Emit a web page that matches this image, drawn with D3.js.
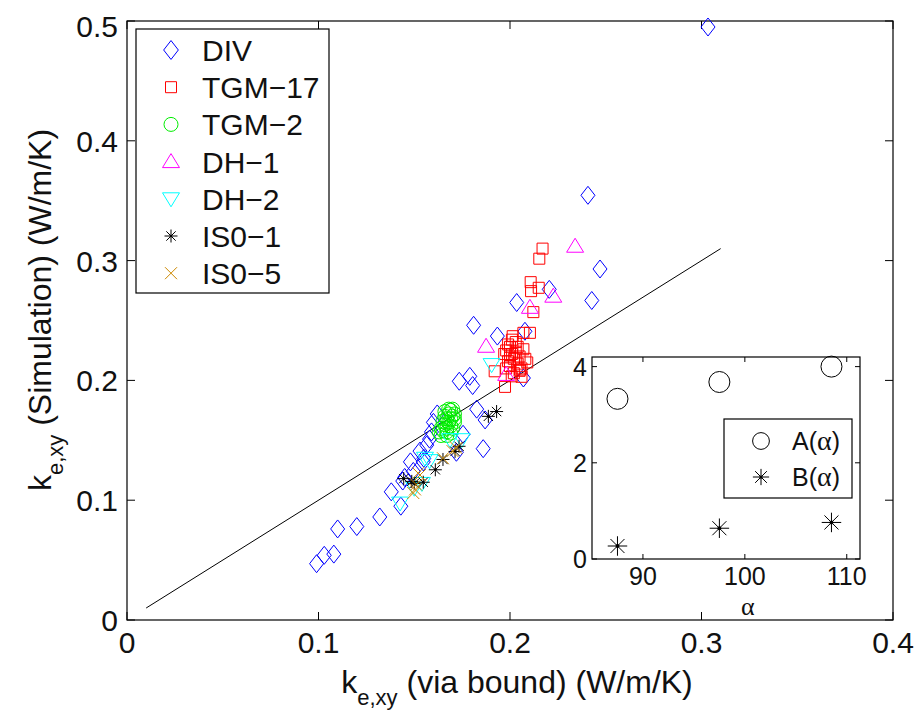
<!DOCTYPE html>
<html><head><meta charset="utf-8">
<script src="https://cdn.jsdelivr.net/npm/d3@7/dist/d3.min.js"></script>
<style>body{margin:0;background:#fff}svg{display:block;font-family:"Liberation Sans",Arial,Helvetica,sans-serif}</style>
</head><body>
<script>
// ---- data ----
const xTicks = [0, 0.1, 0.2, 0.3, 0.4];
const yTicks = [0, 0.1, 0.2, 0.3, 0.4, 0.5];
const DIV = [[0.099,0.047],[0.103,0.054],[0.108,0.055],[0.110,0.076],[0.120,0.078],[0.132,0.086],[0.138,0.107],[0.143,0.095],[0.144,0.116],[0.145,0.119],[0.148,0.132],[0.1495,0.124],[0.153,0.141],[0.1547,0.132],[0.155,0.135],[0.1565,0.146],[0.158,0.151],[0.159,0.157],[0.160,0.165],[0.162,0.172],[0.172,0.140],[0.1755,0.155],[0.1826,0.176],[0.187,0.167],[0.186,0.143],[0.1805,0.1957],[0.1735,0.1993],[0.179,0.2034],[0.181,0.246],[0.1934,0.237],[0.2035,0.265],[0.207,0.202],[0.2078,0.241],[0.2205,0.276],[0.2427,0.2667],[0.247,0.293],[0.2407,0.3545],[0.3034,0.495]];
const TGM17 = [[0.217,0.310],[0.2153,0.3016],[0.2108,0.282],[0.215,0.2773],[0.211,0.2745],[0.2122,0.257],[0.2104,0.2397],[0.207,0.2397],[0.2014,0.2369],[0.1974,0.1946],[0.192,0.2076],[0.2009,0.2034],[0.2052,0.209],[0.198,0.225],[0.199,0.230],[0.200,0.228],[0.201,0.222],[0.202,0.218],[0.203,0.224],[0.199,0.216],[0.200,0.212],[0.204,0.214],[0.205,0.220],[0.206,0.210],[0.202,0.206],[0.207,0.226],[0.208,0.218],[0.203,0.232],[0.201,0.234],[0.205,0.208],[0.198,0.210],[0.206,0.203],[0.200,0.220],[0.204,0.228],[0.209,0.215],[0.197,0.222]];
const TGM2 = [[0.164,0.154],[0.165,0.158],[0.166,0.163],[0.167,0.168],[0.168,0.172],[0.169,0.175],[0.170,0.170],[0.171,0.165],[0.170,0.160],[0.169,0.156],[0.167,0.154],[0.166,0.170],[0.165,0.166],[0.167,0.160],[0.168,0.165],[0.169,0.162],[0.171,0.172],[0.170,0.176],[0.168,0.176],[0.166,0.174],[0.164,0.160],[0.171,0.168],[0.167,0.157],[0.163,0.157],[0.169,0.168]];
const DH1 = [[0.234,0.312],[0.2226,0.2703],[0.2104,0.261],[0.1875,0.2285],[0.198,0.205]];
const DH2 = [[0.1426,0.0976],[0.150,0.110],[0.154,0.114],[0.1556,0.135],[0.158,0.133],[0.1687,0.1505],[0.1748,0.1505],[0.1904,0.2132]];
const IS01 = [[0.1445,0.118],[0.1487,0.1157],[0.150,0.114],[0.1547,0.115],[0.161,0.1254],[0.165,0.134],[0.1713,0.1407],[0.1734,0.145],[0.1887,0.170],[0.193,0.174]];
const IS05 = [[0.1495,0.106],[0.1504,0.109],[0.151,0.113],[0.152,0.1226],[0.153,0.121],[0.165,0.135],[0.170,0.141],[0.172,0.1436]];
const refLine = [[0.01,0.01],[0.31,0.31]];
const seriesNames = ["DIV","TGM\u221217","TGM\u22122","DH\u22121","DH\u22122","IS0\u22121","IS0\u22125"];
// inset
const alpha = [87.5, 97.5, 108.5];
const Avals = [3.33, 3.68, 4.0];
const Bvals = [0.27, 0.64, 0.76];
const insetXTicks = [90, 100, 110];
const insetYTicks = [0, 2, 4];
const insetNames = ["A", "B"];

// ---- markers ----
function marker(g, type, color, s) {
  s = s || 1;
  const p = g.append("path").attr("fill","none").attr("stroke",color).attr("stroke-width",1);
  if (type==="diamond") p.attr("d",`M0,${-9*s}L${7*s},0L0,${9*s}L${-7*s},0Z`);
  else if (type==="square") p.attr("d",`M${-5.5*s},${-5.5*s}h${11*s}v${11*s}h${-11*s}Z`);
  else if (type==="circle") p.attr("d",`M${7*s},0A${7*s},${7*s} 0 1 1 ${-7*s},0A${7*s},${7*s} 0 1 1 ${7*s},0Z`);
  else if (type==="up") p.attr("d",`M0,${-8*s}L${8.5*s},${6*s}L${-8.5*s},${6*s}Z`);
  else if (type==="down") p.attr("d",`M0,${8*s}L${8.5*s},${-6*s}L${-8.5*s},${-6*s}Z`);
  else if (type==="star") { const r=6.5*s, d=r*0.72;
    p.attr("d",`M${-r},0H${r}M0,${-r}V${r}M${-d},${-d}L${d},${d}M${-d},${d}L${d},${-d}`);
    g.append("circle").attr("r",1.3*s).attr("fill",color); }
  else if (type==="x") { const r=6*s; p.attr("d",`M${-r},${-r}L${r},${r}M${-r},${r}L${r},${-r}`); }
}

const W=922,H=718;
const svg = d3.select("body").append("svg").attr("width",W).attr("height",H);
const L=127,R=893,T=21,B=620;
const x = d3.scaleLinear().domain([0,0.4]).range([L,R]);
const y = d3.scaleLinear().domain([0,0.5]).range([B,T]);
const TXT="#111";

// frame
svg.append("rect").attr("x",L).attr("y",T).attr("width",R-L).attr("height",B-T).attr("fill","#fff").attr("stroke","#000").attr("stroke-width",1.2);

// ticks (inside, all sides)
const tl=8;
const ax = svg.append("g").attr("stroke","#000").attr("stroke-width",1);
xTicks.forEach(t=>{ ax.append("line").attr("x1",x(t)).attr("x2",x(t)).attr("y1",B).attr("y2",B-tl);
  ax.append("line").attr("x1",x(t)).attr("x2",x(t)).attr("y1",T).attr("y2",T+tl); });
yTicks.forEach(t=>{ ax.append("line").attr("x1",L).attr("x2",L+tl).attr("y1",y(t)).attr("y2",y(t));
  ax.append("line").attr("x1",R).attr("x2",R-tl).attr("y1",y(t)).attr("y2",y(t)); });
const fs=30;
svg.append("g").selectAll("text").data(xTicks).join("text")
  .attr("x",d=>x(d)).attr("y",B+33).attr("text-anchor","middle").attr("font-size",fs).attr("fill",TXT)
  .text(d=>d===0?"0":d3.format(".1f")(d));
svg.append("g").selectAll("text").data(yTicks).join("text")
  .attr("x",L-9).attr("y",d=>y(d)+11+(d===0.5?5:0)).attr("text-anchor","end").attr("font-size",fs).attr("fill",TXT)
  .text(d=>d===0?"0":d3.format(".1f")(d));

// axis labels
const lfs=32, sfs=22;
const xl = svg.append("text").attr("x",517).attr("y",693).attr("text-anchor","middle").attr("font-size",lfs).attr("fill",TXT);
xl.append("tspan").text("k");
xl.append("tspan").attr("font-size",sfs).attr("dy",12).text("e,xy");
xl.append("tspan").attr("dy",-12).text(" (via bound) (W/m/K)");
const yl = svg.append("text").attr("transform","translate(51,310) rotate(-90)").attr("text-anchor","middle").attr("font-size",lfs).attr("fill",TXT);
yl.append("tspan").text("k");
yl.append("tspan").attr("font-size",sfs).attr("dy",12).text("e,xy");
yl.append("tspan").attr("dy",-12).text(" (Simulation) (W/m/K)");

// reference line
svg.append("path").datum(refLine).attr("d",d3.line().x(d=>x(d[0])).y(d=>y(d[1]))).attr("stroke","#000").attr("stroke-width",1).attr("fill","none");

// scatter series
const series = [
  {data:DIV,type:"diamond",color:"#0000ff"},
  {data:TGM17,type:"square",color:"#ff0000"},
  {data:TGM2,type:"circle",color:"#00ee00"},
  {data:DH1,type:"up",color:"#ff00ff"},
  {data:DH2,type:"down",color:"#00ffff"},
  {data:IS01,type:"star",color:"#000000"},
  {data:IS05,type:"x",color:"#cc8800"}
];
series.forEach(s=>{
  const g = svg.append("g");
  s.data.forEach(d=>{ marker(g.append("g").attr("transform",`translate(${x(d[0])},${y(d[1])})`), s.type, s.color); });
});

// legend
const lg = svg.append("g");
lg.append("rect").attr("x",136).attr("y",29).attr("width",193).attr("height",264).attr("fill","#fff").attr("stroke","#000").attr("stroke-width",1.2);
series.forEach((s,i)=>{
  const cy = 50 + i*37.2;
  marker(lg.append("g").attr("transform",`translate(171,${cy})`), s.type, s.color, s.type==="diamond"?1.05:1);
  lg.append("text").attr("x",202).attr("y",cy+11).attr("font-size",fs).attr("fill",TXT).text(seriesNames[i]);
});

// inset
const iL=592,iR=860,iT=357,iB=559;
const ix = d3.scaleLinear().domain([85,111.3]).range([iL,iR]);
const iy = d3.scaleLinear().domain([0,4.2]).range([iB,iT]);
const ins = svg.append("g");
ins.append("rect").attr("x",iL).attr("y",iT).attr("width",iR-iL).attr("height",iB-iT).attr("fill","#fff").attr("stroke","#000").attr("stroke-width",1.2);
const itl=5, ifs=25;
insetXTicks.forEach(t=>{ ins.append("line").attr("x1",ix(t)).attr("x2",ix(t)).attr("y1",iB).attr("y2",iB-itl).attr("stroke","#000");
  ins.append("line").attr("x1",ix(t)).attr("x2",ix(t)).attr("y1",iT).attr("y2",iT+itl).attr("stroke","#000");
  ins.append("text").attr("x",ix(t)).attr("y",iB+26).attr("text-anchor","middle").attr("font-size",ifs).attr("fill",TXT).text(t); });
insetYTicks.forEach(t=>{ ins.append("line").attr("x1",iL).attr("x2",iL+itl).attr("y1",iy(t)).attr("y2",iy(t)).attr("stroke","#000");
  ins.append("line").attr("x1",iR).attr("x2",iR-itl).attr("y1",iy(t)).attr("y2",iy(t)).attr("stroke","#000");
  ins.append("text").attr("x",iL-5).attr("y",iy(t)+9).attr("text-anchor","end").attr("font-size",ifs).attr("fill",TXT).text(t); });
ins.append("text").attr("x",ix(100)+3).attr("y",iB+56).attr("text-anchor","middle").attr("font-size",26)
  .attr("font-family","'Liberation Serif','DejaVu Serif',serif").attr("fill",TXT).text("\u03b1");
alpha.forEach((a,i)=>{
  marker(ins.append("g").attr("transform",`translate(${ix(a)},${iy(Avals[i])})`),"circle","#000",1.5);
  marker(ins.append("g").attr("transform",`translate(${ix(a)},${iy(Bvals[i])})`),"star","#000",1.5);
});
// inset legend
ins.append("rect").attr("x",724).attr("y",419).attr("width",128).attr("height",79).attr("fill","#fff").attr("stroke","#000").attr("stroke-width",1.2);
marker(ins.append("g").attr("transform","translate(761,441)"),"circle","#000",1.2);
marker(ins.append("g").attr("transform","translate(761,477)"),"star","#000",1.25);
[450,486].forEach((yy,i)=>{
  const t = ins.append("text").attr("x",792).attr("y",yy).attr("font-size",ifs).attr("fill",TXT);
  t.append("tspan").text(insetNames[i]+"(");
  t.append("tspan").attr("font-family","'Liberation Serif','DejaVu Serif',serif").attr("font-size",28).text("\u03b1");
  t.append("tspan").text(")");
});
</script>
</body></html>
